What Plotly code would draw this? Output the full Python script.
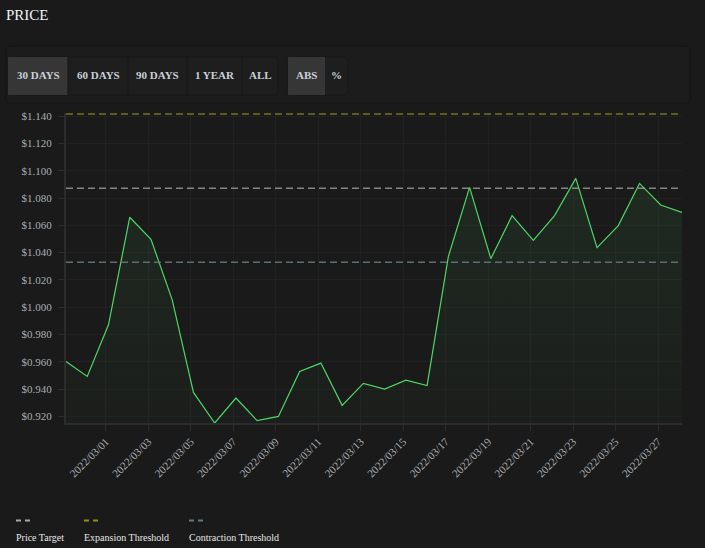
import plotly.graph_objects as go

# Daily price samples
dates = [
    "2022-02-27 03:00", "2022-02-28 03:00", "2022-03-01 03:00", "2022-03-02 03:00",
    "2022-03-03 03:00", "2022-03-04 03:00", "2022-03-05 03:00", "2022-03-06 03:00",
    "2022-03-07 03:00", "2022-03-08 03:00", "2022-03-09 03:00", "2022-03-10 03:00",
    "2022-03-11 03:00", "2022-03-12 03:00", "2022-03-13 03:00", "2022-03-14 03:00",
    "2022-03-15 03:00", "2022-03-16 03:00", "2022-03-17 03:00", "2022-03-18 03:00",
    "2022-03-19 03:00", "2022-03-20 03:00", "2022-03-21 03:00", "2022-03-22 03:00",
    "2022-03-23 03:00", "2022-03-24 03:00", "2022-03-25 03:00", "2022-03-26 03:00",
    "2022-03-27 03:00", "2022-03-28 03:00",
]
price = [
    0.9603, 0.9493, 0.9871, 1.0659, 1.0498, 1.0054, 0.9376, 0.9152, 0.9335, 0.9169,
    0.9200, 0.9529, 0.9591, 0.9281, 0.9442, 0.9400, 0.9466, 0.9427, 1.0371, 1.0878,
    1.0356, 1.0671, 1.0490, 1.0671, 1.0944, 1.0437, 1.0598, 1.0907, 1.0749, 1.0695,
]

price_target = 1.0871
expansion_threshold = 1.1415
contraction_threshold = 1.0330

range_buttons = ["30 DAYS", "60 DAYS", "90 DAYS", "1 YEAR", "ALL"]
mode_buttons = ["ABS", "%"]
legend_names = ["Price Target", "Expansion Threshold", "Contraction Threshold"]

BG = "#1a1a1a"
SERIF = "Liberation Serif"

# plot area in pixels (left, right, top, bottom)
L, R, T, B = 66, 682, 113, 423


def px(x):
    return (x - L) / (R - L)


def py(y):
    return (B - y) / (B - T)


def rrect(x0, y0, x1, y1, r=4):
    # rounded rectangle path in paper coords from pixel box
    rx = r / (R - L)
    ry = r / (B - T)
    a0, a1 = px(x0), px(x1)
    b0, b1 = py(y1), py(y0)  # bottom, top
    return (f"M {a0+rx},{b1} L {a1-rx},{b1} Q {a1},{b1} {a1},{b1-ry} "
            f"L {a1},{b0+ry} Q {a1},{b0} {a1-rx},{b0} L {a0+rx},{b0} "
            f"Q {a0},{b0} {a0},{b0+ry} L {a0},{b1-ry} Q {a0},{b1} {a0+rx},{b1} Z")


fig = go.Figure()

fig.add_trace(go.Scatter(
    x=dates, y=price, mode="lines",
    line=dict(color="#4fd566", width=1.2),
    fill="tozeroy",
    fillgradient=dict(type="vertical", start=min(price), stop=max(price),
                      colorscale=[[0, "rgba(80,210,100,0.02)"], [1, "rgba(80,210,100,0.09)"]]),
    name="Price", showlegend=False,
))

line_colors = ["rgba(170,170,170,0.75)", "rgba(130,130,30,0.85)", "rgba(100,120,125,0.9)"]
for val, col, nm in zip([price_target, expansion_threshold, contraction_threshold], line_colors, legend_names):
    fig.add_trace(go.Scatter(
        x=[dates[0], dates[-1]], y=[val, val], mode="lines",
        line=dict(color=col, width=1.5, dash="7px,4px"),
        name=nm, showlegend=False, hoverinfo="skip",
    ))

shapes = []
annotations = []

# toolbar panel
shapes.append(dict(type="path", path=rrect(6, 46, 690, 103, 5), xref="paper", yref="paper",
                   fillcolor="#1c1c1c", line=dict(color="#151515", width=1), layer="below"))

# range button group
edges = [8, 68, 128, 187, 242, 278]
shapes.append(dict(type="path", path=rrect(8, 57, 278, 95, 4), xref="paper", yref="paper",
                   fillcolor="#1e1e1e", line=dict(color="#171717", width=1)))
shapes.append(dict(type="rect", x0=px(8), x1=px(68), y0=py(95), y1=py(57), xref="paper", yref="paper",
                   fillcolor="#363636", line=dict(width=0)))
for e in edges[1:-1]:
    shapes.append(dict(type="line", x0=px(e), x1=px(e), y0=py(95), y1=py(57), xref="paper", yref="paper",
                       line=dict(color="#171717", width=1)))
for lab, a, b in zip(range_buttons, edges[:-1], edges[1:]):
    annotations.append(dict(text=lab, x=px((a + b) / 2), y=py(75), xref="paper", yref="paper",
                            xanchor="center", yanchor="middle", showarrow=False,
                            font=dict(family=SERIF, size=11, color="#c8d0d8", weight="bold")))

# abs / % group
edges2 = [288, 325, 348]
shapes.append(dict(type="path", path=rrect(288, 57, 348, 95, 4), xref="paper", yref="paper",
                   fillcolor="#1e1e1e", line=dict(color="#171717", width=1)))
shapes.append(dict(type="rect", x0=px(288), x1=px(325), y0=py(95), y1=py(57), xref="paper", yref="paper",
                   fillcolor="#363636", line=dict(width=0)))
for lab, a, b in zip(mode_buttons, edges2[:-1], edges2[1:]):
    annotations.append(dict(text=lab, x=px((a + b) / 2), y=py(75), xref="paper", yref="paper",
                            xanchor="center", yanchor="middle", showarrow=False,
                            font=dict(family=SERIF, size=11, color="#c8d0d8", weight="bold")))

# custom legend: symbol above text
legend_x = [16, 84, 189]
legend_cols = ["#a8a8a8", "#8f8f1f", "#667880"]
for nm, lx, col in zip(legend_names, legend_x, legend_cols):
    shapes.append(dict(type="line", x0=px(lx), x1=px(lx + 14), y0=py(520.5), y1=py(520.5),
                       xref="paper", yref="paper", line=dict(color=col, width=2, dash="5px,4px")))
    annotations.append(dict(text=nm, x=px(lx - 2), y=py(537), xref="paper", yref="paper",
                            xanchor="left", yanchor="middle", showarrow=False,
                            font=dict(family=SERIF, size=10, color="#e6e6e6")))

fig.update_layout(
    width=705, height=548,
    margin=dict(l=L, r=705 - R, t=T, b=548 - B),
    paper_bgcolor=BG, plot_bgcolor=BG,
    title=dict(text="PRICE", x=6 / 705, xref="container", xanchor="left",
               y=1 - 15 / 548, yref="container", yanchor="middle",
               font=dict(family=SERIF, size=15, color="#f2f2f2")),
    showlegend=False,
    shapes=shapes, annotations=annotations,
    xaxis=dict(
        type="date", range=[dates[0], dates[-1]],
        tick0="2022-03-01", dtick=2 * 86400000, tickformat="%Y/%m/%d", tickangle=-45,
        showgrid=True, gridcolor="#212121", gridwidth=1,
        showline=True, linecolor="#2c2c2c", linewidth=2,
        ticks="outside", ticklen=6, tickcolor="#2c2c2c",
        tickfont=dict(family=SERIF, size=11, color="#a9aeb3"),
        zeroline=False,
    ),
    yaxis=dict(
        range=[min(price), expansion_threshold + 0.0008],
        tick0=0.92, dtick=0.02, tickformat="$.3f",
        showgrid=True, gridcolor="#212121", gridwidth=1,
        showline=True, linecolor="#2c2c2c", linewidth=2,
        ticks="outside", ticklen=6, tickcolor="#2c2c2c",
        tickfont=dict(family=SERIF, size=11, color="#a9aeb3"),
        ticklabelstandoff=4,
        zeroline=False,
    ),
)

fig.write_html("out.html", config={"displayModeBar": False},
               post_script="document.body.style.margin='0';document.body.style.background='#1a1a1a';")
